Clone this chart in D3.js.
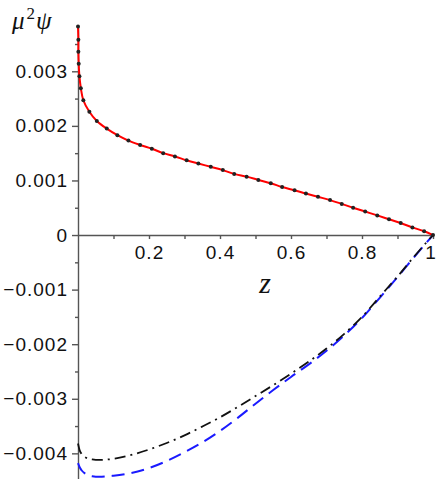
<!DOCTYPE html>
<html>
<head>
<meta charset="utf-8">
<script src="https://cdn.jsdelivr.net/npm/d3@7"></script>
<style>
  body { margin: 0; background: #fff; }
  svg { display: block; }
  .tick text { font-family: "Liberation Sans", Arial, Helvetica, sans-serif; font-size: 19px; letter-spacing: 1px; fill: #111; }
</style>
</head>
<body>
<div id="chart"></div>
<script>
// red curve (with black dots on top): z and mu^2 psi
const redZ = [0, 0.001, 0.001, 0.002, 0.004, 0.008, 0.015, 0.032, 0.053, 0.081, 0.111, 0.142, 0.175, 0.208, 0.24, 0.273, 0.306, 0.339, 0.374, 0.408, 0.44, 0.475, 0.508, 0.543, 0.575, 0.61, 0.642, 0.676, 0.71, 0.743, 0.775, 0.809, 0.843, 0.876, 0.909, 0.942, 0.975, 1];
const redPsi = [0.00382, 0.00358, 0.00336, 0.00314, 0.00291, 0.00269, 0.00247, 0.00226, 0.00209, 0.00195, 0.00183, 0.00173, 0.00165, 0.00158, 0.0015, 0.00144, 0.00137, 0.00131, 0.00125, 0.00119, 0.00112, 0.00107, 0.00101, 0.00095, 0.00088, 0.00082, 0.00076, 0.0007, 0.00064, 0.00057, 0.0005, 0.00043, 0.00036, 0.00029, 0.00022, 0.00014, 0.00007, 0];

// lower curves
const lowZ = [0, 0.005, 0.01, 0.02, 0.04, 0.06, 0.1, 0.15, 0.2, 0.25, 0.3, 0.35, 0.4, 0.45, 0.5, 0.55, 0.6, 0.65, 0.7, 0.75, 0.8, 0.85, 0.9, 0.95, 1];
const bluePsi = [-0.00418, -0.00426, -0.00431, -0.00437, -0.00442, -0.00443, -0.00441, -0.00436, -0.00427, -0.00414, -0.00398, -0.0038, -0.00359, -0.00335, -0.00309, -0.00284, -0.0026, -0.00237, -0.00212, -0.00184, -0.00152, -0.00115, -0.00077, -0.00038, 0];
const blackPsi = [-0.00382, -0.00395, -0.00401, -0.00407, -0.00411, -0.00412, -0.0041, -0.00403, -0.00393, -0.00381, -0.00367, -0.00351, -0.00334, -0.00315, -0.00295, -0.00275, -0.00254, -0.00232, -0.00208, -0.00181, -0.0015, -0.00113, -0.00076, -0.00037, 0];

const xTicks = [0.2, 0.4, 0.6, 0.8, 1];
const xMinor = [0.1, 0.3, 0.5, 0.7, 0.9];
const yTicks = [0.003, 0.002, 0.001, 0, -0.001, -0.002, -0.003, -0.004];
const yMinor = [0.0035, 0.0025, 0.0015, 0.0005, -0.0005, -0.0015, -0.0025, -0.0035];

const W = 436, H = 479;
const svg = d3.select("#chart").append("svg").attr("width", W).attr("height", H);

const x = d3.scaleLinear().domain([0, 1]).range([78, 433]);
const y = d3.scaleLinear().domain([-0.00447, 0.00383]).range([479, 26]);

const fmt = v => v === 0 ? "0" : (v < 0 ? "\u2212" : "") + Math.abs(v).toFixed(3);

// y axis
svg.append("g").attr("transform", `translate(${x(0)},0)`)
  .call(d3.axisLeft(y).tickValues(yTicks).tickFormat(fmt).tickSize(6).tickSizeOuter(0).tickPadding(4));
svg.append("g").attr("transform", `translate(${x(0)},0)`)
  .call(d3.axisLeft(y).tickValues(yMinor).tickFormat("").tickSize(3))
  .call(g => g.select(".domain").remove());

// x axis
const gx = svg.append("g").attr("transform", `translate(0,${y(0)})`)
  .call(d3.axisBottom(x).tickValues(xTicks).tickFormat(d => d === 1 ? "1" : d3.format(".1f")(d)).tickSize(4).tickSizeOuter(0).tickPadding(6));
// keep the last label inside the window
gx.selectAll(".tick text").filter(d => d === 1).attr("dx", -3).style("letter-spacing", "0px");
svg.append("g").attr("transform", `translate(0,${y(0)})`)
  .call(d3.axisBottom(x).tickValues(xMinor).tickFormat("").tickSize(4))
  .call(g => g.select(".domain").remove());

svg.selectAll(".domain, .tick line").attr("stroke", "#555").attr("stroke-width", 1.4);

// curves
const line = d3.line().x(d => x(d[0])).y(d => y(d[1])).curve(d3.curveMonotoneX);

svg.append("path").datum(lowZ.map((z, i) => [z, bluePsi[i]]))
  .attr("d", line).attr("fill", "none").attr("stroke", "#1a1aff")
  .attr("stroke-width", 2).attr("stroke-dasharray", "13,7");

svg.append("path").datum(lowZ.map((z, i) => [z, blackPsi[i]]))
  .attr("d", line).attr("fill", "none").attr("stroke", "#111")
  .attr("stroke-width", 1.8).attr("stroke-dasharray", "11,5,2,5");

const redLine = d3.line().x(d => x(d[0])).y(d => y(d[1])).curve(d3.curveCatmullRom);
svg.append("path").datum(redZ.map((z, i) => [z, redPsi[i]]))
  .attr("d", redLine).attr("fill", "none").attr("stroke", "#f00").attr("stroke-width", 2);

svg.selectAll(".dot").data(redZ.map((z, i) => [z, redPsi[i]])).enter()
  .append("circle").attr("class", "dot")
  .attr("cx", d => x(d[0])).attr("cy", d => y(d[1])).attr("r", 2)
  .attr("fill", "#222");

// axis titles
const ttl = svg.append("text").attr("x", 12).attr("y", 29)
  .attr("font-family", "'Liberation Serif', 'Times New Roman', serif")
  .attr("font-style", "italic").attr("font-size", 25).attr("fill", "#111");
ttl.append("tspan").text("\u03bc");
ttl.append("tspan").attr("dy", -10).attr("font-size", 17).attr("font-style", "normal").attr("dx", 2).text("2");
ttl.append("tspan").attr("dy", 10).attr("dx", 1).text("\u03c8");

svg.append("text").attr("x", 265).attr("y", 293).attr("text-anchor", "middle")
  .attr("font-family", "'Liberation Serif', 'Times New Roman', serif")
  .attr("font-style", "italic").attr("font-size", 30).attr("fill", "#111").text("z");
</script>
</body>
</html>
